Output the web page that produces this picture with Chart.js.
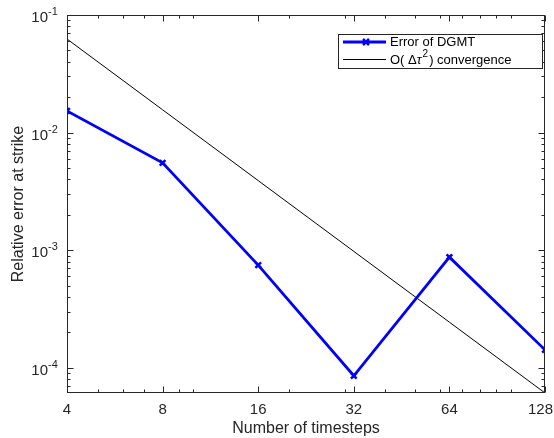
<!DOCTYPE html>
<html>
<head>
<meta charset="utf-8">
<script src="https://cdn.jsdelivr.net/npm/chart.js@4.4.0/dist/chart.umd.min.js"></script>
<style>
  html, body { margin: 0; padding: 0; background: #fff; }
  #wrap { width: 554px; height: 438px; }
</style>
</head>
<body>
<div id="wrap"><canvas id="errChart" width="554" height="438"></canvas></div>
<script>
// datos
var timesteps = [4, 8, 16, 32, 64, 128];
var errorDGMT = [0.0153, 0.00553, 0.000746, 0.0000855, 0.000872, 0.000142];
var refLine = [0.0625, 0.015625, 0.00390625, 0.0009765625, 0.000244140625, 0.00006103515625]; // 1/N^2
var xTickLabels = ['4', '8', '16', '32', '64', '128'];
var xMinorTicks = [5, 6, 7, 9, 10, 20, 30, 40, 50, 60, 70, 80, 90, 100];
var yTickExps = [-4, -3, -2, -1];

var axisColor = '#262626';
var fontName = '"Liberation Sans", Arial, Helvetica, sans-serif';

function toXY(xs, ys) {
    return xs.map(function (v, i) { return { x: v, y: ys[i] }; });
}

var axesPlugin = {
    id: 'matlabAxes',
    afterDraw: function (chart) {
        var ctx = chart.ctx;
        var a = chart.chartArea;
        var x = chart.scales.x;
        var y = chart.scales.y;
        ctx.save();
        ctx.strokeStyle = axisColor;
        ctx.lineWidth = 1;
        var L = Math.round(a.left) + 0.5, R = Math.round(a.right) - 0.5;
        var T = Math.round(a.top) + 0.5, B = Math.round(a.bottom) - 0.5;
        ctx.strokeRect(L, T, R - L, B - T);

        ctx.beginPath();
        // x ticks (abajo y arriba, hacia dentro)
        function xTick(v, len) {
            var px = Math.round(x.getPixelForValue(v)) + 0.5;
            ctx.moveTo(px, B); ctx.lineTo(px, B - len);
            ctx.moveTo(px, T); ctx.lineTo(px, T + len);
        }
        timesteps.forEach(function (v) { xTick(v, 6); });
        xMinorTicks.forEach(function (v) { xTick(v, 3); });
        // y ticks
        function yTick(v, len) {
            var py = Math.round(y.getPixelForValue(v)) + 0.5;
            ctx.moveTo(L, py); ctx.lineTo(L + len, py);
            ctx.moveTo(R, py); ctx.lineTo(R - len, py);
        }
        for (var d = -5; d <= -1; d++) {
            for (var k = 1; k <= 9; k++) {
                var v = k * Math.pow(10, d);
                if (v < y.min * 0.999 || v > y.max * 1.001) continue;
                yTick(v, k === 1 ? 6 : 3);
            }
        }
        ctx.stroke();

        // etiquetas x
        ctx.fillStyle = axisColor;
        ctx.font = '15px ' + fontName;
        ctx.textAlign = 'center';
        ctx.textBaseline = 'middle';
        timesteps.forEach(function (v, i) {
            var px = x.getPixelForValue(v);
            var w = ctx.measureText(xTickLabels[i]).width;
            px = Math.min(px, chart.width - 1 - w / 2);
            ctx.fillText(xTickLabels[i], px, 410);
        });
        // etiquetas y: 10^exp
        yTickExps.forEach(function (e) {
            var py = y.getPixelForValue(Math.pow(10, e));
            ctx.font = '15px ' + fontName;
            ctx.textAlign = 'right';
            ctx.fillText('10', 48, py + 3);
            ctx.font = '11px ' + fontName;
            ctx.textAlign = 'left';
            ctx.fillText(String(e), 48, py - 3);
        });
        // titulos
        ctx.font = '16px ' + fontName;
        ctx.textAlign = 'center';
        ctx.fillText('Number of timesteps', (a.left + a.right) / 2, 429);
        ctx.save();
        ctx.translate(19, (a.top + a.bottom) / 2);
        ctx.rotate(-Math.PI / 2);
        ctx.fillText('Relative error at strike', 0, 0);
        ctx.restore();

        // leyenda
        var lx = 338.5, ly = 34.5, lw = 204, lh = 34;
        ctx.fillStyle = '#fff';
        ctx.fillRect(lx, ly, lw, lh);
        ctx.strokeStyle = axisColor;
        ctx.strokeRect(lx, ly, lw, lh);
        // fila 1
        ctx.strokeStyle = '#0000ff';
        ctx.lineWidth = 2.8;
        ctx.beginPath(); ctx.moveTo(343, 42); ctx.lineTo(386, 42); ctx.stroke();
        ctx.lineWidth = 2.5;
        ctx.beginPath();
        ctx.moveTo(363, 39); ctx.lineTo(369, 45);
        ctx.moveTo(369, 39); ctx.lineTo(363, 45);
        ctx.stroke();
        ctx.fillStyle = '#000';
        ctx.font = '13px ' + fontName;
        ctx.textAlign = 'left';
        ctx.fillText('Error of DGMT', 390, 42);
        // fila 2
        ctx.strokeStyle = '#000';
        ctx.lineWidth = 1;
        ctx.beginPath(); ctx.moveTo(343, 59.5); ctx.lineTo(386, 59.5); ctx.stroke();
        var tx = 390;
        ctx.fillText('O(', tx, 60); tx += ctx.measureText('O( ').width;
        ctx.fillText('\u0394', tx, 60); tx += ctx.measureText('\u0394').width;
        ctx.font = 'italic 13px ' + fontName;
        ctx.fillText('\u03c4', tx, 60); tx += ctx.measureText('\u03c4').width + 1;
        ctx.font = '10px ' + fontName;
        ctx.fillText('2', tx, 54); tx += ctx.measureText('2').width + 1;
        ctx.font = '13px ' + fontName;
        ctx.fillText(') convergence', tx, 60);
        ctx.restore();
    }
};

var ctx = document.getElementById('errChart');
var config = {
    type: 'line',
    data: {
        datasets: [{
            label: 'Error of DGMT',
            data: toXY(timesteps, errorDGMT),
            borderColor: '#0000ff',
            backgroundColor: '#0000ff',
            borderWidth: 2.8,
            pointStyle: 'crossRot',
            pointRadius: 4,
            pointBorderWidth: 2.5,
            tension: 0
        }, {
            label: 'O(\u0394\u03c4\u00b2) convergence',
            data: toXY(timesteps, refLine),
            borderColor: '#000000',
            borderWidth: 1,
            pointRadius: 0,
            tension: 0
        }]
    },
    options: {
        responsive: false,
        animation: false,
        layout: { padding: { left: 67, right: 9, top: 15, bottom: 45 } },
        plugins: { legend: { display: false }, tooltip: { enabled: false } },
        scales: {
            x: { type: 'logarithmic', min: 4, max: 128, display: false },
            y: { type: 'logarithmic', min: 0.000061, max: 0.1, display: false }
        }
    },
    plugins: [axesPlugin]
};

window.myChart = new Chart(ctx, config);
</script>
</body>
</html>
